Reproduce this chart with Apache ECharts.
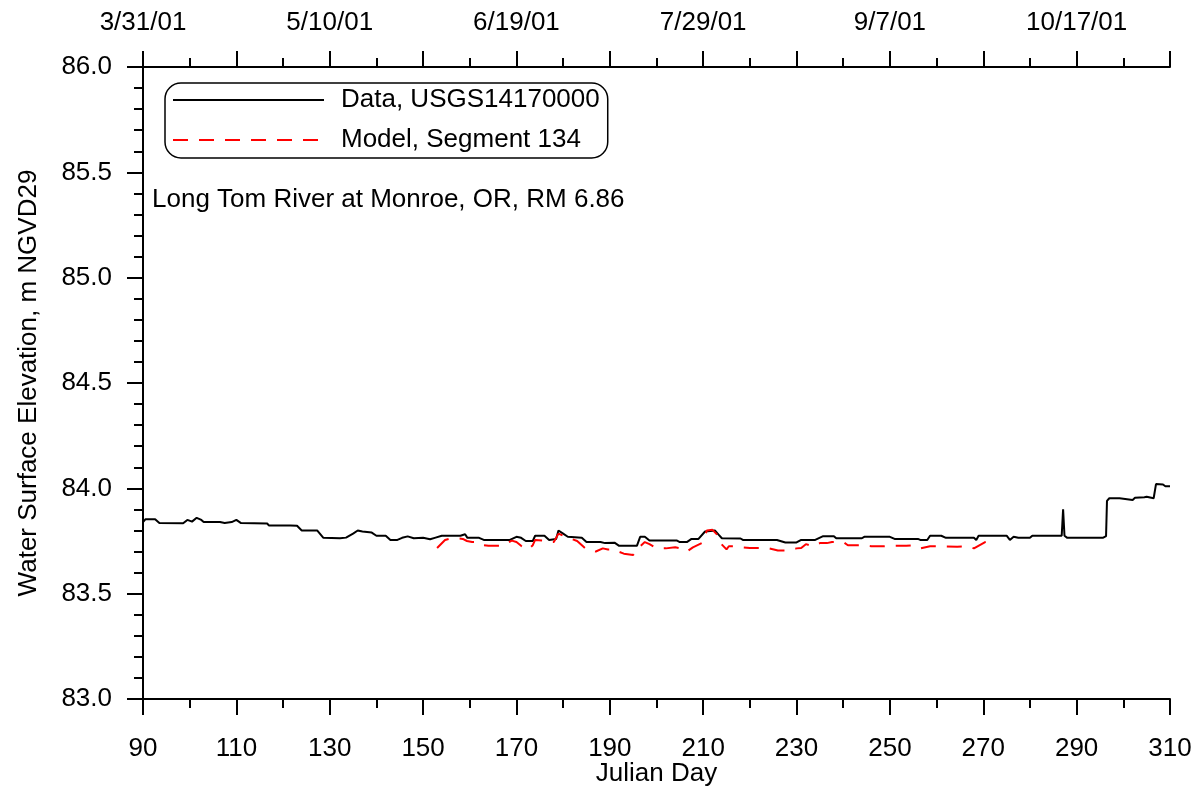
<!DOCTYPE html>
<html>
<head>
<meta charset="utf-8">
<script src="https://cdn.jsdelivr.net/npm/echarts@6/dist/echarts.min.js"></script>
<style>html,body{margin:0;padding:0;background:#fff}#c{width:1200px;height:791px}</style>
</head>
<body>
<div id="c"></div>
<script>
// ---- Data ----
const dataDays = [90,90.5,92.6,93.5,98.6,99.5,100.5,101.5,102.5,103,106.5,107.5,109,110,111,116.6,117,121.6,122,123,124,127.3,128.6,132.2,133.5,135,136,137,139,140,142,143,144.5,145.5,146.7,148,150,151.5,152.5,154,158,159,159.5,162,163,168.6,170,171,172,173.5,174,176,177,178.5,179,180,181,184,185,188,189,191,192,195.8,196.5,197.5,198.5,202,204.4,205,206.5,207.5,209,210.4,211.5,212.5,213.3,214,218,218.5,225.8,227.6,230,231,234,235.7,238,238.5,244,244.5,250,251,256,256.5,258,258.6,261,262,268,268.5,269,275,275.7,276.5,277.5,280,280.5,286.8,287.1,287.4,288,295.6,296.3,296.5,297,299.2,299.5,302,302.5,304.5,305,306.5,307,308.5,309,310];
const dataValues = [83.84,83.853,83.853,83.835,83.834,83.85,83.842,83.86,83.85,83.84,83.84,83.835,83.84,83.85,83.835,83.833,83.823,83.823,83.828,83.822,83.80,83.80,83.766,83.763,83.766,83.785,83.80,83.795,83.79,83.775,83.775,83.755,83.755,83.765,83.772,83.763,83.765,83.758,83.765,83.775,83.775,83.782,83.765,83.765,83.755,83.755,83.77,83.765,83.75,83.75,83.775,83.775,83.755,83.76,83.80,83.785,83.77,83.765,83.745,83.745,83.74,83.742,83.727,83.727,83.77,83.77,83.752,83.752,83.752,83.745,83.745,83.76,83.76,83.795,83.797,83.80,83.78,83.763,83.762,83.755,83.755,83.743,83.743,83.755,83.755,83.773,83.773,83.763,83.763,83.77,83.77,83.76,83.76,83.755,83.755,83.775,83.775,83.765,83.765,83.755,83.775,83.775,83.755,83.77,83.765,83.765,83.775,83.775,83.90,83.775,83.765,83.765,83.773,83.94,83.953,83.953,83.945,83.945,83.955,83.958,83.96,83.953,84.02,84.018,84.01,84.01];

const modelDays = [153,154.7,155.5,157.5,158.5,159.4,160.5,162,163,164,167,168,169,170,171,172.5,173.5,174,176,177,178,179,180.5,183,184.5,185,187,188.5,189.6,191,191.8,193,195,196,197.5,198.5,200,202,204,205,206.5,207.8,209.7,210.8,212,213,213.5,215,215.5,217,218.5,220,223.7,226,228,230,231,232,233.5,235,236.5,237.6,240,241,244,246,248.5,250,253.5,255,256.5,258.6,261.4,264.4,266.8,268,270.4,272.5];
const modelValues = [83.717,83.755,83.76,83.762,83.76,83.75,83.745,83.745,83.73,83.727,83.727,83.74,83.752,83.745,83.727,83.71,83.73,83.755,83.752,83.745,83.745,83.785,83.77,83.75,83.72,83.71,83.70,83.715,83.71,83.71,83.70,83.69,83.684,83.715,83.745,83.735,83.715,83.715,83.72,83.715,83.70,83.72,83.74,83.80,83.803,83.78,83.745,83.71,83.725,83.725,83.72,83.717,83.717,83.705,83.705,83.715,83.717,83.735,83.725,83.74,83.74,83.745,83.745,83.73,83.73,83.725,83.725,83.727,83.727,83.73,83.715,83.725,83.725,83.723,83.725,83.715,83.745,83.755];

const topLabelDays = [90,130,170,210,250,290];
const topLabels = ['3/31/01','5/10/01','6/19/01','7/29/01','9/7/01','10/17/01'];

const seriesNames = ['Data, USGS14170000','Model, Segment 134'];
const annotation = 'Long Tom River at Monroe, OR, RM 6.86';

// ---- Chart ----
const FONT = '"Liberation Sans", Arial, sans-serif';
const FS = 26;
const chart = echarts.init(document.getElementById('c'), null, {renderer:'canvas'});
const zip = (a,b)=>a.map((d,i)=>[d,b[i]]);

const axisCommon = {
  type:'value', min:90, max:310, interval:20,
  axisLine:{show:true, onZero:false, lineStyle:{color:'#000', width:2}},
  axisTick:{show:true, inside:false, length:16, lineStyle:{color:'#000', width:2}},
  minorTick:{show:true, splitNumber:2, length:9, lineStyle:{color:'#000', width:2}},
  splitLine:{show:false}, minorSplitLine:{show:false}
};

chart.setOption({
  animation:false,
  backgroundColor:'#fff',
  textStyle:{fontFamily:FONT},
  grid:{left:143, right:30, top:67, bottom:92, containLabel:false, outerBoundsMode:'none'},
  xAxis:[
    Object.assign({}, axisCommon, {
      position:'bottom',
      name:'Julian Day', nameLocation:'middle', nameGap:62, nameMoveOverlap:false,
      nameTextStyle:{fontSize:FS, color:'#000', fontFamily:FONT},
      axisLabel:{fontSize:FS, color:'#000', margin:37, fontFamily:FONT}
    }),
    Object.assign({}, axisCommon, {
      position:'top',
      axisLabel:{fontSize:FS, color:'#000', margin:31, fontFamily:FONT,
        showMaxLabel:true, showMinLabel:true,
        formatter:v=>{const i=topLabelDays.indexOf(Math.round(v)); return i>=0?topLabels[i]:'';}}
    })
  ],
  yAxis:{
    type:'value', min:83, max:86, interval:0.5,
    name:'Water Surface Elevation, m NGVD29', nameLocation:'middle', nameGap:101, nameMoveOverlap:false,
    nameTextStyle:{fontSize:FS, color:'#000', fontFamily:FONT},
    axisLine:{show:true, onZero:false, lineStyle:{color:'#000', width:2}},
    axisTick:{show:true, inside:false, length:16, lineStyle:{color:'#000', width:2}},
    minorTick:{show:true, splitNumber:5, length:9, lineStyle:{color:'#000', width:2}},
    splitLine:{show:false},
    axisLabel:{fontSize:FS, color:'#000', margin:31, fontFamily:FONT, formatter:v=>v.toFixed(1)}
  },
  legend:{
    show:true, orient:'vertical', left:165, top:83,
    itemWidth:151, itemHeight:14, itemGap:14,
    padding:[4,8,5,7],
    borderColor:'#000', borderWidth:1.5, borderRadius:16,
    itemStyle:{opacity:0},
    textStyle:{fontSize:FS, color:'#000', fontFamily:FONT, padding:[0,0,0,12]},
    data:seriesNames
  },
  graphic:[{
    type:'text', left:152, top:187,
    style:{text:annotation, fontSize:FS, fill:'#000', fontFamily:FONT}
  }],
  series:[
    {name:seriesNames[0], type:'line', xAxisIndex:0, data:zip(dataDays,dataValues),
     symbol:'none', lineStyle:{color:'#000', width:2}, itemStyle:{color:'#000'}, z:2},
    {name:seriesNames[1], type:'line', xAxisIndex:0, data:zip(modelDays,modelValues),
     symbol:'none', lineStyle:{color:'#ff0000', width:2, type:[15,11]}, itemStyle:{color:'#ff0000'}, z:3}
  ]
});
</script>
</body>
</html>
